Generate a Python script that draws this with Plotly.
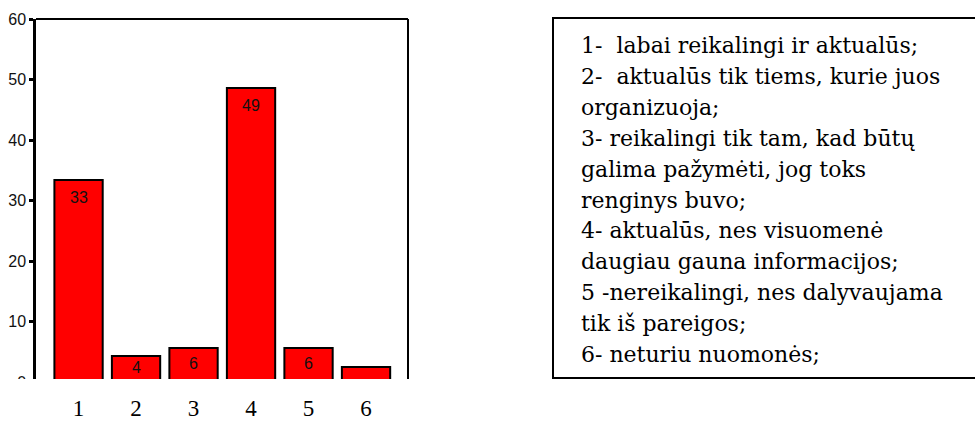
import plotly.graph_objects as go

# Survey answers (percent of respondents) for each answer option
categories = ["1", "2", "3", "4", "5", "6"]
percent = [33.4, 4.3, 5.6, 48.6, 5.6, 2.5]
shown_labels = [True, True, True, True, True, False]

legend_lines = [
    "1-  labai reikalingi ir aktualūs;",
    "2-  aktualūs tik tiems, kurie juos",
    "organizuoja;",
    "3- reikalingi tik tam, kad būtų",
    "galima pažymėti, jog toks",
    "renginys buvo;",
    "4- aktualūs, nes visuomenė",
    "daugiau gauna informacijos;",
    "5 -nereikalingi, nes dalyvaujama",
    "tik iš pareigos;",
    "6- neturiu nuomonės;",
]

W, H = 975, 424
ML, MR, MT, MB = 36, 567, 19, 42
PW, PH = W - ML - MR, H - MT - MB
BASE = 379  # lowest visible pixel row of the chart


def px_x(px):
    return (px - ML) / PW


def px_y(py):
    return (H - MB - py) / PH


xpos = list(range(len(categories)))

fig = go.Figure(
    go.Bar(
        x=xpos,
        y=percent,
        marker=dict(color="#ff0000", line=dict(color="#000000", width=2)),
        hoverinfo="skip",
    )
)

label_font = dict(family="Liberation Sans", size=16, color="#111")
annotations = []
# value labels inside the bars
for xi, v, show in zip(xpos, percent, shown_labels):
    if not show:
        continue
    if v >= 10:
        annotations.append(dict(x=xi, y=v, yshift=-18, text=str(round(v)),
                                showarrow=False, yanchor="middle", font=label_font))
    else:
        annotations.append(dict(x=xi, y=(v + 0.5) / 2, text=str(round(v)),
                                showarrow=False, yanchor="middle", font=label_font))

# legend text block
line_h = 30.8
for i, line in enumerate(legend_lines):
    annotations.append(dict(xref="paper", yref="paper", x=px_x(579), y=px_y(46 + i * line_h),
                            xanchor="left", yanchor="middle", text=line, showarrow=False,
                            font=dict(family="DejaVu Serif", size=22, color="#000")))

shapes = [
    # hide the part below the visible baseline
    dict(type="rect", xref="paper", yref="paper", x0=px_x(0), x1=px_x(420),
         y0=px_y(390), y1=px_y(BASE), fillcolor="#ffffff", line=dict(width=0), layer="above"),
    # top and right frame of the plot area
    dict(type="line", xref="paper", yref="paper", x0=0, x1=1, y0=1, y1=1,
         line=dict(color="#000", width=2), layer="above"),
    dict(type="line", xref="paper", yref="paper", x0=1, x1=1, y0=1, y1=px_y(BASE),
         line=dict(color="#000", width=2), layer="above"),
    # legend box
    dict(type="rect", xref="paper", yref="paper", x0=px_x(553), x1=px_x(990),
         y0=px_y(378), y1=px_y(18), line=dict(color="#000", width=2), layer="above"),
]

fig.update_layout(
    width=W, height=H,
    margin=dict(l=ML, r=MR, t=MT, b=MB, pad=0, autoexpand=False),
    paper_bgcolor="#ffffff", plot_bgcolor="#ffffff",
    showlegend=False,
    bargap=0.16,
    annotations=annotations,
    shapes=shapes,
    xaxis=dict(range=[-0.74, 5.73], tickvals=xpos, ticktext=categories,
               automargin=False,
               showgrid=False, zeroline=False, showline=False, ticks="",
               ticklabelstandoff=10,
               tickfont=dict(family="Liberation Serif", size=23, color="#000")),
    yaxis=dict(range=[0, 60], dtick=10, automargin=False,
               showgrid=False, zeroline=False,
               showline=True, linecolor="#000", linewidth=2.5,
               ticks="outside", ticklen=4, tickwidth=3, tickcolor="#000",
               tickfont=dict(family="Liberation Sans", size=16, color="#111")),
)

fig.write_html("out.html")
